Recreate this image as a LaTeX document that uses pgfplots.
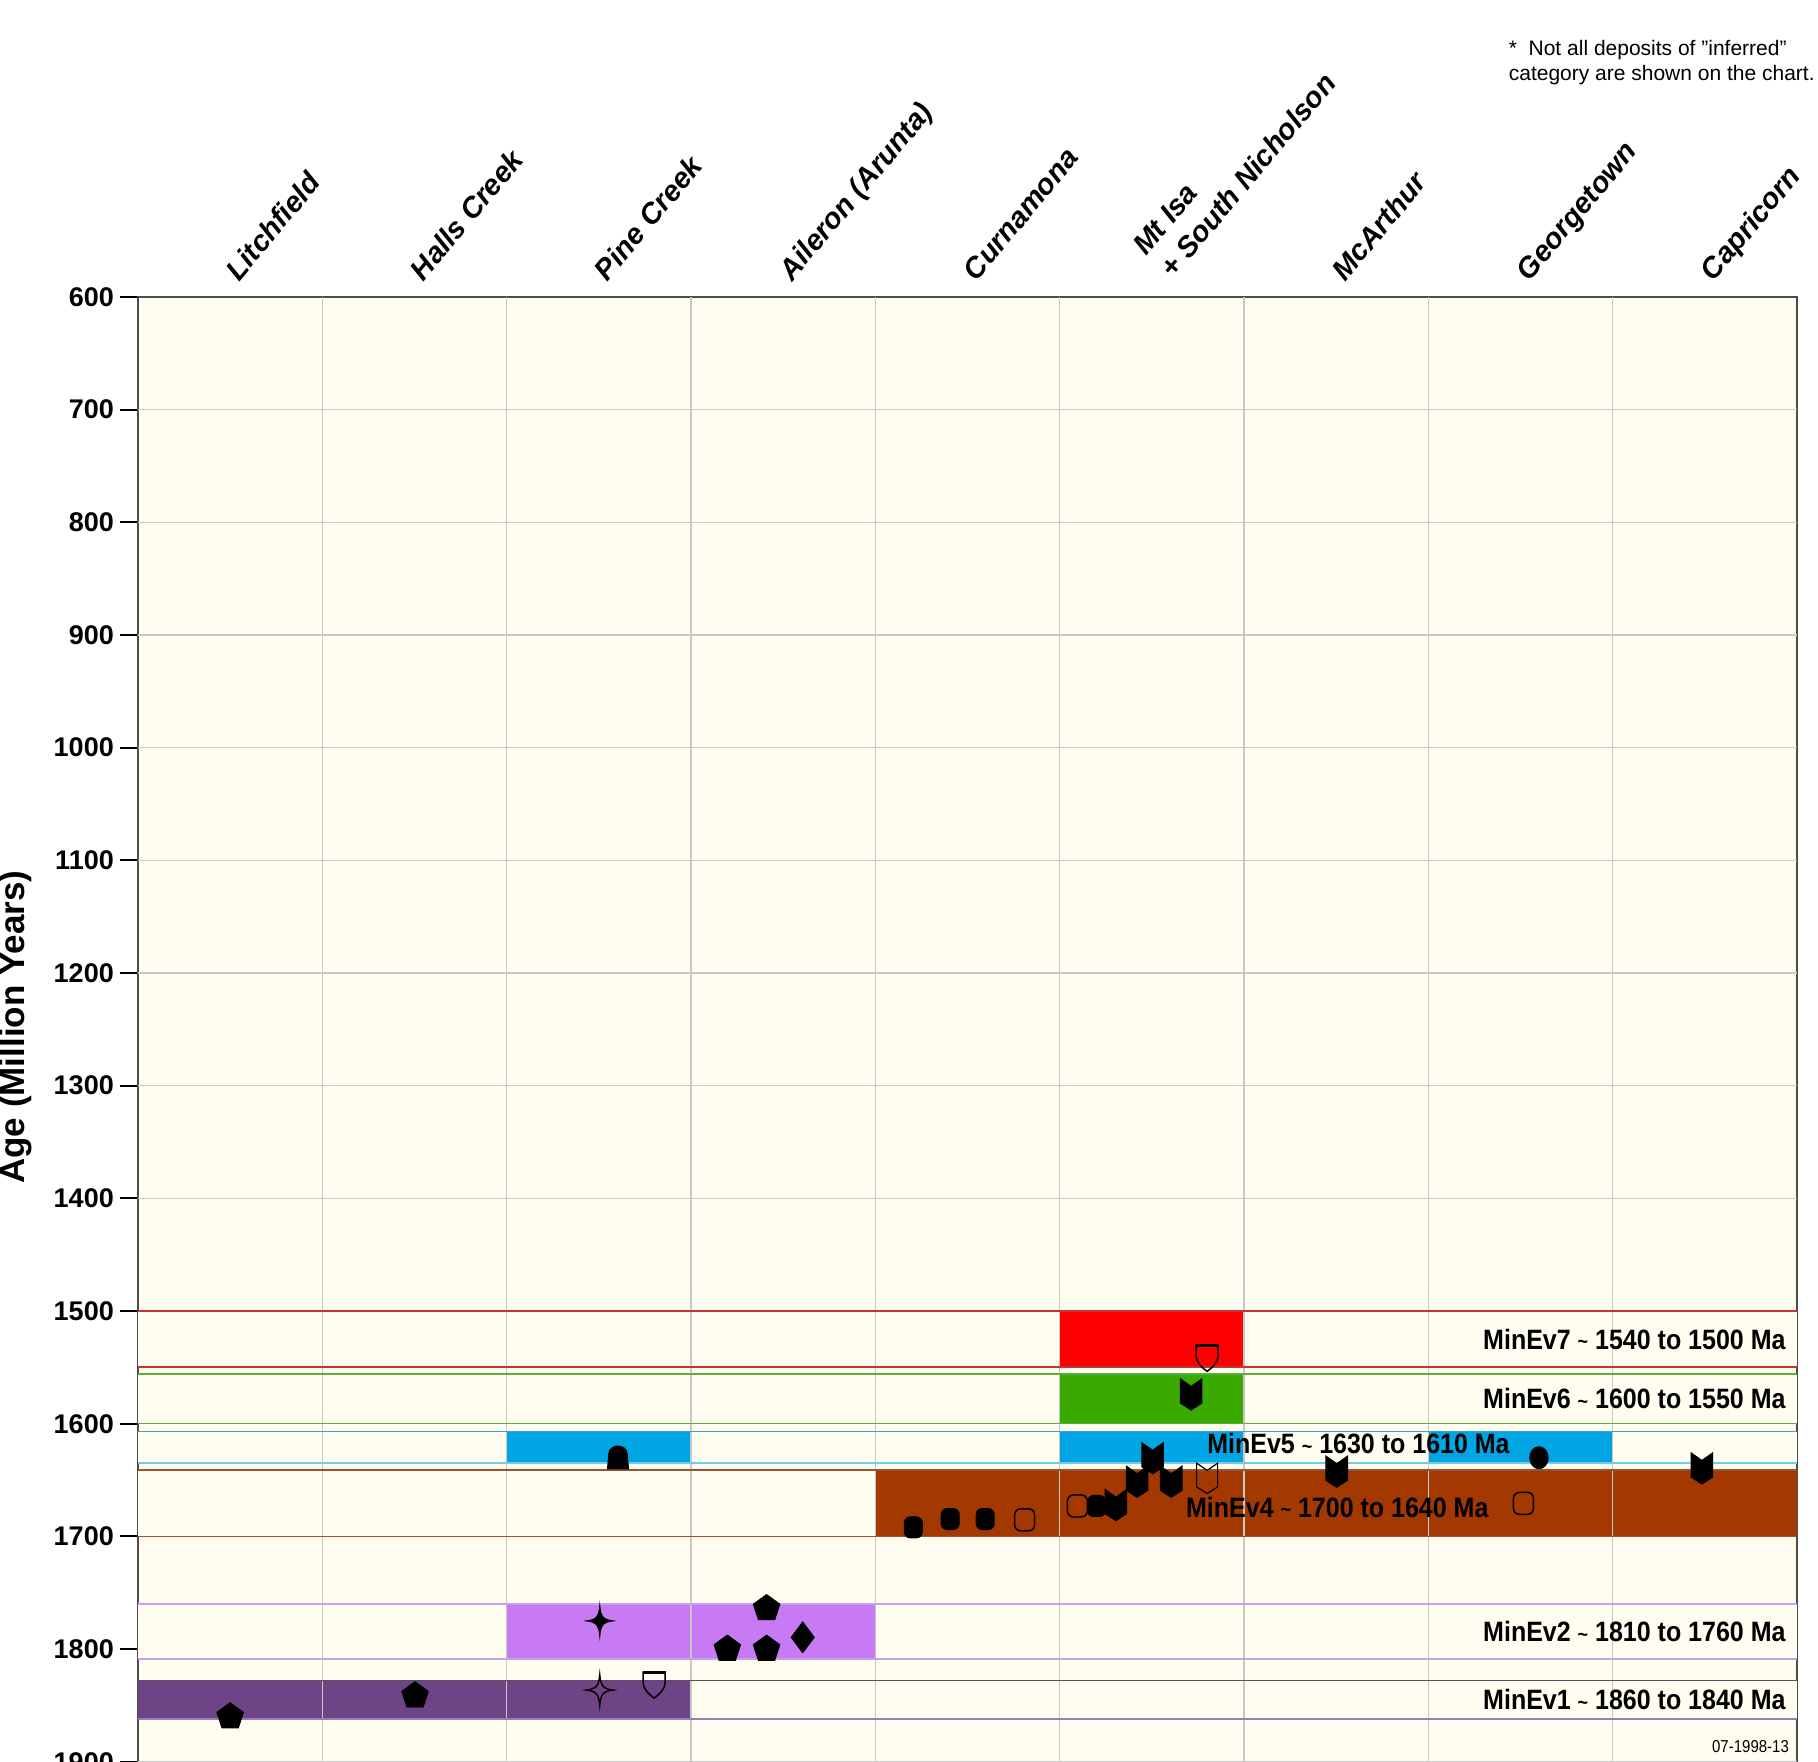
\documentclass[border=0pt]{standalone}
\usepackage{pgfplots}
\pgfplotsset{compat=1.18}
\usepackage{fontspec}
\setmainfont{Liberation Sans}

\definecolor{cream}{RGB}{255,253,240}
\definecolor{gridc}{RGB}{200,200,200}
\definecolor{ev7}{RGB}{255,0,0}
\definecolor{ev7l}{RGB}{200,50,50}
\definecolor{ev6}{RGB}{58,170,0}
\definecolor{ev6l}{RGB}{90,175,60}
\definecolor{ev5}{RGB}{0,166,228}
\definecolor{ev5l}{RGB}{60,160,210}
\definecolor{ev5lb}{RGB}{110,205,235}
\definecolor{ev4}{RGB}{163,56,0}
\definecolor{ev4l}{RGB}{150,85,55}
\definecolor{ev2}{RGB}{200,122,245}
\definecolor{ev2l}{RGB}{200,160,230}
\definecolor{ev1}{RGB}{110,68,134}
\definecolor{ev1t}{RGB}{90,80,100}
\definecolor{ev1l}{RGB}{155,125,180}

% custom marks
\pgfdeclareplotmark{chevf}{%
 \pgfpathmoveto{\pgfqpoint{-5.4pt}{7.8pt}}%
 \pgfpathlineto{\pgfqpoint{0pt}{4pt}}%
 \pgfpathlineto{\pgfqpoint{5.4pt}{7.8pt}}%
 \pgfpathlineto{\pgfqpoint{5.4pt}{-4.3pt}}%
 \pgfpathlineto{\pgfqpoint{0pt}{-7.8pt}}%
 \pgfpathlineto{\pgfqpoint{-5.4pt}{-4.3pt}}%
 \pgfpathclose
 \pgfusepathqfillstroke}
\pgfdeclareplotmark{chevo}{%
 \pgfpathmoveto{\pgfqpoint{-5.25pt}{7.6pt}}%
 \pgfpathlineto{\pgfqpoint{0pt}{4pt}}%
 \pgfpathlineto{\pgfqpoint{5.25pt}{7.6pt}}%
 \pgfpathlineto{\pgfqpoint{5.25pt}{-4.3pt}}%
 \pgfpathlineto{\pgfqpoint{0pt}{-7.6pt}}%
 \pgfpathlineto{\pgfqpoint{-5.25pt}{-4.3pt}}%
 \pgfpathclose
 \pgfusepathqstroke}
\pgfdeclareplotmark{shield}{%
 \pgfpathmoveto{\pgfqpoint{-5.5pt}{6.5pt}}%
 \pgfpathlineto{\pgfqpoint{5.5pt}{6.5pt}}%
 \pgfpathlineto{\pgfqpoint{5.5pt}{1.5pt}}%
 \pgfpathcurveto{\pgfqpoint{5.5pt}{-2.5pt}}{\pgfqpoint{2pt}{-5pt}}{\pgfqpoint{0pt}{-6.5pt}}%
 \pgfpathcurveto{\pgfqpoint{-2pt}{-5pt}}{\pgfqpoint{-5.5pt}{-2.5pt}}{\pgfqpoint{-5.5pt}{1.5pt}}%
 \pgfpathclose
 \pgfusepathqstroke
 \pgfsetfillcolor{black}%
 \pgfpathrectangle{\pgfqpoint{-5.8pt}{5.6pt}}{\pgfqpoint{11.6pt}{1.5pt}}%
 \pgfusepathqfill}
\pgfdeclareplotmark{starf}{%
 \pgfpathmoveto{\pgfqpoint{0pt}{7.75pt}}%
 \pgfpathcurveto{\pgfqpoint{0.5pt}{2.2pt}}{\pgfqpoint{1.5pt}{0.6pt}}{\pgfqpoint{6.75pt}{0pt}}%
 \pgfpathcurveto{\pgfqpoint{1.5pt}{-0.6pt}}{\pgfqpoint{0.5pt}{-2.2pt}}{\pgfqpoint{0pt}{-7.75pt}}%
 \pgfpathcurveto{\pgfqpoint{-0.5pt}{-2.2pt}}{\pgfqpoint{-1.5pt}{-0.6pt}}{\pgfqpoint{-6.75pt}{0pt}}%
 \pgfpathcurveto{\pgfqpoint{-1.5pt}{0.6pt}}{\pgfqpoint{-0.5pt}{2.2pt}}{\pgfqpoint{0pt}{7.75pt}}%
 \pgfpathclose
 \pgfusepathqfillstroke}
\pgfdeclareplotmark{staro}{%
 \pgfpathmoveto{\pgfqpoint{0pt}{7.75pt}}%
 \pgfpathcurveto{\pgfqpoint{0.5pt}{2.2pt}}{\pgfqpoint{1.5pt}{0.6pt}}{\pgfqpoint{6.75pt}{0pt}}%
 \pgfpathcurveto{\pgfqpoint{1.5pt}{-0.6pt}}{\pgfqpoint{0.5pt}{-2.2pt}}{\pgfqpoint{0pt}{-7.75pt}}%
 \pgfpathcurveto{\pgfqpoint{-0.5pt}{-2.2pt}}{\pgfqpoint{-1.5pt}{-0.6pt}}{\pgfqpoint{-6.75pt}{0pt}}%
 \pgfpathcurveto{\pgfqpoint{-1.5pt}{0.6pt}}{\pgfqpoint{-0.5pt}{2.2pt}}{\pgfqpoint{0pt}{7.75pt}}%
 \pgfpathclose
 \pgfusepathqstroke}
\pgfdeclareplotmark{thimble}{%
 \pgfpathmoveto{\pgfqpoint{-5.25pt}{-6pt}}%
 \pgfpathlineto{\pgfqpoint{5.25pt}{-6pt}}%
 \pgfpathlineto{\pgfqpoint{4.6pt}{1.5pt}}%
 \pgfpathcurveto{\pgfqpoint{4.4pt}{6.8pt}}{\pgfqpoint{-4.4pt}{6.8pt}}{\pgfqpoint{-4.6pt}{1.5pt}}%
 \pgfpathclose
 \pgfusepathqfillstroke}
\pgfdeclareplotmark{rsqf}{%
 \pgfpathmoveto{\pgfqpoint{-1.5pt}{-5.25pt}}%
 \pgfpathlineto{\pgfqpoint{1.5pt}{-5.25pt}}%
 \pgfpathcurveto{\pgfqpoint{3.157pt}{-5.25pt}}{\pgfqpoint{4.5pt}{-3.907pt}}{\pgfqpoint{4.5pt}{-2.25pt}}%
 \pgfpathlineto{\pgfqpoint{4.5pt}{2.25pt}}%
 \pgfpathcurveto{\pgfqpoint{4.5pt}{3.907pt}}{\pgfqpoint{3.157pt}{5.25pt}}{\pgfqpoint{1.5pt}{5.25pt}}%
 \pgfpathlineto{\pgfqpoint{-1.5pt}{5.25pt}}%
 \pgfpathcurveto{\pgfqpoint{-3.157pt}{5.25pt}}{\pgfqpoint{-4.5pt}{3.907pt}}{\pgfqpoint{-4.5pt}{2.25pt}}%
 \pgfpathlineto{\pgfqpoint{-4.5pt}{-2.25pt}}%
 \pgfpathcurveto{\pgfqpoint{-4.5pt}{-3.907pt}}{\pgfqpoint{-3.157pt}{-5.25pt}}{\pgfqpoint{-1.5pt}{-5.25pt}}%
 \pgfpathclose
 \pgfusepathqfillstroke}
\pgfdeclareplotmark{rsqo}{%
 \pgfpathmoveto{\pgfqpoint{-2pt}{-5.5pt}}%
 \pgfpathlineto{\pgfqpoint{2pt}{-5.5pt}}%
 \pgfpathcurveto{\pgfqpoint{3.657pt}{-5.5pt}}{\pgfqpoint{5pt}{-4.157pt}}{\pgfqpoint{5pt}{-2.5pt}}%
 \pgfpathlineto{\pgfqpoint{5pt}{2.5pt}}%
 \pgfpathcurveto{\pgfqpoint{5pt}{4.157pt}}{\pgfqpoint{3.657pt}{5.5pt}}{\pgfqpoint{2pt}{5.5pt}}%
 \pgfpathlineto{\pgfqpoint{-2pt}{5.5pt}}%
 \pgfpathcurveto{\pgfqpoint{-3.657pt}{5.5pt}}{\pgfqpoint{-5pt}{4.157pt}}{\pgfqpoint{-5pt}{2.5pt}}%
 \pgfpathlineto{\pgfqpoint{-5pt}{-2.5pt}}%
 \pgfpathcurveto{\pgfqpoint{-5pt}{-4.157pt}}{\pgfqpoint{-3.657pt}{-5.5pt}}{\pgfqpoint{-2pt}{-5.5pt}}%
 \pgfpathclose
 \pgfusepathqstroke}
\pgfdeclareplotmark{ovalf}{%
 \pgfpathellipse{\pgfpointorigin}{\pgfqpoint{4.6pt}{0pt}}{\pgfqpoint{0pt}{5.5pt}}%
 \pgfusepathqfillstroke}

\newcommand{\tl}{\raisebox{0.02em}{\fontsize{9}{9}\selectfont\textasciitilde}}
\newcommand{\bandfont}{\fontsize{12.5}{14}\selectfont\bfseries}
\newcommand{\bl}[1]{\scalebox{1}[1.12]{#1}}

\begin{document}
\begin{tikzpicture}
\useasboundingbox (0,0) rectangle (909pt,-880.5pt);
\begin{axis}[
  at={(69pt,-148.5pt)}, anchor=north west,
  scale only axis, width=829.5pt, height=760.5pt,
  xmin=0, xmax=9, ymin=600, ymax=1950, y dir=reverse,
  clip=false,
  axis background/.style={fill=cream},
  axis line style={line width=0.9pt, draw=black!70},
  xtick={0.5,1.5,...,8.5},
  xtick pos=right, xticklabel pos=right,
  xtick style={draw=none},
  xticklabels={Litchfield, Halls Creek, Pine Creek, Aileron (Arunta), Curnamona,
    {\raisebox{13.7pt}[0pt][0pt]{\hspace{4.85pt}\rlap{\raisebox{-17.7pt}[0pt][0pt]{+ South Nicholson}}Mt Isa}},
    McArthur, Georgetown, Capricorn},
  xticklabel style={xshift=4.4pt, yshift=-1.65pt, rotate=50, anchor=base west, inner sep=0pt,
    font=\fontsize{14.5}{17}\selectfont\bfseries\itshape},
  ytick={600,700,...,1900},
  ytick pos=left, tick align=outside, major tick length=9pt,
  ytick style={line width=0.9pt, black},
  yticklabel style={font=\fontsize{13.5}{15}\selectfont\bfseries, anchor=east, inner sep=0pt, xshift=-2.9pt},
  /pgf/number format/assume math mode=true,
  /pgf/number format/1000 sep={},
  every axis y label/.style={at={(axis cs:-0.662,1248)}, rotate=90, anchor=center,
    font=\fontsize{17.5}{20}\selectfont\bfseries},
  ylabel={Age (Million Years)},
]
% horizontal grid
\pgfplotsinvokeforeach{700,800,...,1900}{\draw[gridc, line width=0.7pt] (axis cs:0,#1) -- (axis cs:9,#1);}
% band strips (cream) then event fills
\addplot[fill=cream, draw=none] coordinates {(0,1500) (9,1500) (9,1550) (0,1550)} -- cycle;
\addplot[fill=cream, draw=none] coordinates {(0,1556) (9,1556) (9,1600) (0,1600)} -- cycle;
\addplot[fill=cream, draw=none] coordinates {(0,1607) (9,1607) (9,1635) (0,1635)} -- cycle;
\addplot[fill=cream, draw=none] coordinates {(0,1641) (9,1641) (9,1700) (0,1700)} -- cycle;
\addplot[fill=cream, draw=none] coordinates {(0,1760) (9,1760) (9,1809) (0,1809)} -- cycle;
\addplot[fill=cream, draw=none] coordinates {(0,1828) (9,1828) (9,1862) (0,1862)} -- cycle;
% MinEv7
\addplot[fill=ev7, draw=none] coordinates {(5,1500) (6,1500) (6,1550) (5,1550)} -- cycle;
% MinEv6
\addplot[fill=ev6, draw=none] coordinates {(5,1556) (6,1556) (6,1600) (5,1600)} -- cycle;
% MinEv5
\addplot[fill=ev5, draw=none] coordinates {(2,1607) (3,1607) (3,1635) (2,1635)} -- cycle;
\addplot[fill=ev5, draw=none] coordinates {(5,1607) (6,1607) (6,1635) (5,1635)} -- cycle;
\addplot[fill=ev5, draw=none] coordinates {(7,1607) (8,1607) (8,1635) (7,1635)} -- cycle;
% MinEv4
\addplot[fill=ev4, draw=none] coordinates {(4,1641) (9,1641) (9,1700) (4,1700)} -- cycle;
% MinEv2
\addplot[fill=ev2, draw=none] coordinates {(2,1760) (4,1760) (4,1809) (2,1809)} -- cycle;
% MinEv1
\addplot[fill=ev1, draw=none] coordinates {(0,1828) (3,1828) (3,1862) (0,1862)} -- cycle;
% vertical grid
\pgfplotsinvokeforeach{1,...,8}{\draw[gridc, line width=0.7pt] (axis cs:#1,600) -- (axis cs:#1,1950);}
% band edge lines
\draw[ev7l, line width=0.9pt] (axis cs:0,1500) -- (axis cs:9,1500);
\draw[ev7l, line width=0.9pt] (axis cs:0,1550) -- (axis cs:9,1550);
\draw[ev6l, line width=0.7pt] (axis cs:0,1556) -- (axis cs:9,1556);
\draw[ev6l, line width=0.7pt] (axis cs:0,1600) -- (axis cs:9,1600);
\draw[ev5l, line width=0.8pt] (axis cs:0,1607) -- (axis cs:9,1607);
\draw[ev5lb, line width=0.8pt] (axis cs:0,1635) -- (axis cs:9,1635);
\draw[ev4l, line width=0.7pt] (axis cs:0,1641) -- (axis cs:9,1641);
\draw[ev4l, line width=0.8pt] (axis cs:0,1700) -- (axis cs:9,1700);
\draw[ev2l, line width=0.9pt] (axis cs:0,1760) -- (axis cs:9,1760);
\draw[ev2l, line width=0.9pt] (axis cs:0,1809) -- (axis cs:9,1809);
\draw[ev1t, line width=0.8pt] (axis cs:0,1828) -- (axis cs:9,1828);
\draw[ev1l, line width=0.8pt] (axis cs:0,1862) -- (axis cs:9,1862);
% band labels
\node[anchor=east, inner sep=0pt, font=\bandfont] at (axis cs:8.94,1525) {\bl{MinEv7 \tl{} 1540 to 1500 Ma}};
\node[anchor=east, inner sep=0pt, font=\bandfont] at (axis cs:8.94,1578) {\bl{MinEv6 \tl{} 1600 to 1550 Ma}};
\node[anchor=west, inner sep=0pt, font=\bandfont] at (axis cs:5.799,1618) {\bl{MinEv5 \tl{} 1630 to 1610 Ma}};
\node[anchor=west, inner sep=0pt, font=\bandfont] at (axis cs:5.684,1674) {\bl{MinEv4 \tl{} 1700 to 1640 Ma}};
\node[anchor=east, inner sep=0pt, font=\bandfont] at (axis cs:8.94,1784.5) {\bl{MinEv2 \tl{} 1810 to 1760 Ma}};
\node[anchor=east, inner sep=0pt, font=\bandfont] at (axis cs:8.94,1845) {\bl{MinEv1 \tl{} 1860 to 1840 Ma}};
\node[anchor=base east, inner sep=0pt, font=\fontsize{7.5}{9}\selectfont] at (axis cs:8.958,1891.4) {\scalebox{1}[1.15]{07-1998-13}};
% deposits
\addplot[only marks, mark=pentagon*, mark size=7pt, mark options={fill=black, draw=black}]
  coordinates {(0.5,1860) (1.503,1841.4) (3.41,1764) (3.197,1800) (3.41,1800)};
\addplot[only marks, mark=diamond*, mark size=7.75pt, mark options={fill=black, draw=black}]
  coordinates {(3.606,1789.6)};
\addplot[only marks, mark=starf, mark options={fill=black, draw=black, line width=0.5pt}]
  coordinates {(2.505,1775)};
\addplot[only marks, mark=staro, mark options={draw=black, line width=0.7pt}]
  coordinates {(2.505,1836.4)};
\addplot[only marks, mark=shield, mark options={draw=black, line width=0.75pt}]
  coordinates {(2.80,1832) (5.80,1542)};
\addplot[only marks, mark=thimble, mark options={fill=black, draw=black, line width=0.5pt}]
  coordinates {(2.604,1629.5)};
\addplot[only marks, mark=rsqf, mark options={fill=black, draw=black, line width=0.5pt}]
  coordinates {(4.206,1692) (4.406,1684.6) (4.596,1684.6) (5.20,1673)};
\addplot[only marks, mark=rsqo, mark options={draw=black, line width=0.75pt}]
  coordinates {(4.81,1685.3) (5.096,1673) (7.516,1670.7)};
\addplot[only marks, mark=chevf, mark options={fill=black, draw=black, line width=0.5pt}]
  coordinates {(5.713,1574) (5.504,1630.7) (5.42,1651.5) (5.605,1651.5) (5.305,1672.2) (6.503,1642.6) (8.484,1639.7)};
\addplot[only marks, mark=chevo, mark options={draw=black, line width=0.6pt}]
  coordinates {(5.80,1648.5)};
\addplot[only marks, mark=ovalf, mark options={fill=black, draw=black, line width=0.5pt}]
  coordinates {(7.60,1630.2)};
\end{axis}
\node[anchor=base west, inner sep=0pt, font=\fontsize{10.5}{12}\selectfont] at (754.2pt,-27.8pt) {*\ \ Not all deposits of "inferred"};
\node[anchor=base west, inner sep=0pt, font=\fontsize{10.5}{12}\selectfont] at (754.2pt,-40pt) {category are shown on the chart.};
\end{tikzpicture}
\end{document}
